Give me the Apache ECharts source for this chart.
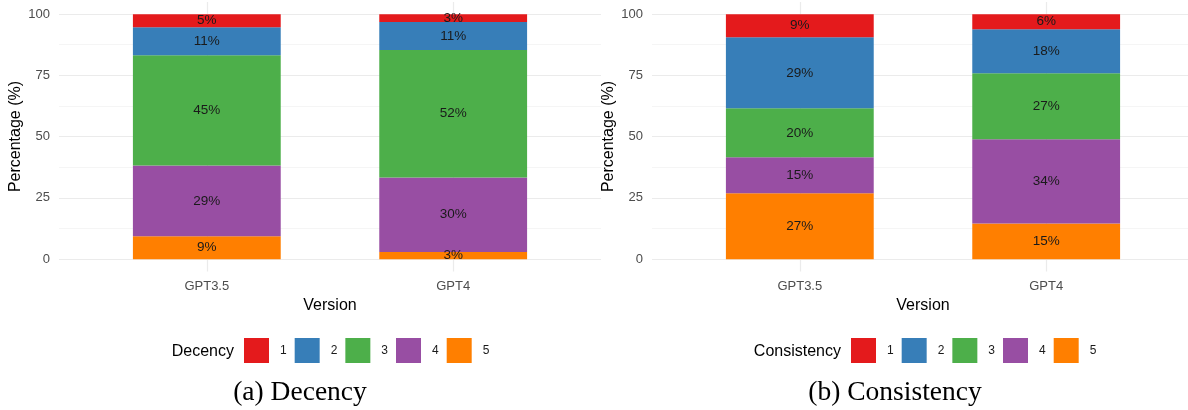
<!DOCTYPE html>
<html>
<head>
<meta charset="utf-8">
<script src="https://cdn.jsdelivr.net/npm/echarts@6/dist/echarts.min.js"></script>
<style>
html,body{margin:0;padding:0;background:#fff;}
#c{width:1188px;height:410px;}
</style>
</head>
<body>
<div id="c"></div>
<script>
const versions = ['GPT3.5', 'GPT4'];
const levels = ['1', '2', '3', '4', '5'];
const levelColors = ['#E41A1C', '#377EB8', '#4DAF4A', '#984EA3', '#FF7F00'];
const yTicks = [0, 25, 50, 75, 100];

// Decency (level 1..5), per version
const decency1 = [5.3, 3.2];
const decency2 = [11.4, 11.4];
const decency3 = [45.0, 52.0];
const decency4 = [28.9, 30.4];
const decency5 = [9.4, 3.0];

// Consistency (level 1..5), per version
const consistency1 = [9.4, 6.1];
const consistency2 = [29.0, 18.0];
const consistency3 = [20.0, 26.9];
const consistency4 = [14.7, 34.4];
const consistency5 = [26.9, 14.6];

const decencyData = [decency1, decency2, decency3, decency4, decency5];
const consistencyData = [consistency1, consistency2, consistency3, consistency4, consistency5];

const chart = echarts.init(document.getElementById('c'), null, {renderer: 'canvas'});

const GRID_COL = '#EBEBEB';
const MINOR_COL = '#F2F2F2';
const panels = [
  {left: 59, legendTitle: 'Decency', caption: '(a) Decency', data: decencyData, legendLeft: 239, titleRight: 234, captionX: 300},
  {left: 652, legendTitle: 'Consistency', caption: '(b) Consistency', data: consistencyData, legendLeft: 846, titleRight: 841, captionX: 895}
];
const PW = 542;       // panel width
const unit = PW / 2.2; // one discrete unit

const grid = [], xAxis = [], yAxis = [], series = [], legend = [], graphic = [];

panels.forEach((p, pi) => {
  const g0 = grid.length;
  grid.push({left: p.left, top: 14, width: PW, height: 245});
  grid.push({left: p.left + 0.6 * unit, top: 2, width: unit, height: 269.5});
  grid.push({left: p.left + 0.1 * unit, top: 2, width: 2 * unit, height: 269.5});

  xAxis.push({gridIndex: g0, type: 'value', min: 0, max: 1, show: false});
  yAxis.push({
    gridIndex: g0, type: 'value', min: 0, max: 100, interval: 25,
    name: 'Percentage (%)', nameLocation: 'middle', nameGap: 35, nameRotate: 90,
    nameTextStyle: {color: '#000', fontSize: 16, fontFamily: 'Liberation Sans'},
    axisLine: {show: false}, axisTick: {show: false},
    axisLabel: {color: '#4D4D4D', fontSize: 13, margin: 9, fontFamily: 'Liberation Sans',
      formatter: v => (yTicks.indexOf(v) >= 0 ? String(v) : '')},
    splitLine: {show: true, lineStyle: {color: GRID_COL, width: 1.2}},
    minorTick: {show: false, splitNumber: 2},
    minorSplitLine: {show: true, lineStyle: {color: MINOR_COL, width: 0.8}}
  });

  xAxis.push({gridIndex: g0 + 1, type: 'category', data: versions, boundaryGap: false,
    axisLine: {show: false}, axisTick: {show: false}, axisLabel: {show: false},
    splitLine: {show: true, lineStyle: {color: GRID_COL, width: 1.2}}});
  yAxis.push({gridIndex: g0 + 1, type: 'value', min: -5, max: 105, show: false, splitLine: {show: false}});

  xAxis.push({gridIndex: g0 + 2, type: 'category', data: versions, boundaryGap: true,
    name: 'Version', nameLocation: 'middle', nameGap: 25,
    nameTextStyle: {color: '#000', fontSize: 16, fontFamily: 'Liberation Sans'},
    axisLine: {show: false}, axisTick: {show: false}, splitLine: {show: false},
    axisLabel: {color: '#4D4D4D', fontSize: 13, margin: 8, fontFamily: 'Liberation Sans'}});
  yAxis.push({gridIndex: g0 + 2, type: 'value', min: -5, max: 105, show: false, splitLine: {show: false}});

  const axIdx = g0 + 2;
  for (let li = levels.length - 1; li >= 0; li--) {
    series.push({
      type: 'bar', name: levels[li], stack: 'p' + pi,
      xAxisIndex: axIdx, yAxisIndex: axIdx,
      data: p.data[li], barWidth: 0.6 * unit,
      itemStyle: {color: levelColors[li]},
      label: {show: true, position: 'inside', color: '#1A1A1A', fontSize: 13.5,
        fontFamily: 'Liberation Sans', formatter: d => Math.round(d.value) + '%'},
      emphasis: {disabled: true}, animation: false
    });
  }

  legend.push({
    left: p.legendLeft, top: 333, orient: 'horizontal',
    data: levels, icon: 'rect', itemWidth: 25, itemHeight: 25, itemGap: 8,
    selectedMode: false,
    textStyle: {color: '#1A1A1A', fontSize: 12, fontFamily: 'Liberation Sans', padding: [0, 0, 0, 6]}
  });

  graphic.push({type: 'text', x: p.titleRight, y: 352,
    style: {text: p.legendTitle, fill: '#000', font: '16px "Liberation Sans"', textAlign: 'right', textVerticalAlign: 'middle'}});
  graphic.push({type: 'text', x: p.captionX, y: 393,
    style: {text: p.caption, fill: '#000', font: '27.5px "Liberation Serif"', textAlign: 'center', textVerticalAlign: 'middle'}});
});

chart.setOption({
  animation: false,
  backgroundColor: '#fff',
  color: levelColors,
  grid, xAxis, yAxis, series, legend, graphic
});
</script>
</body>
</html>
